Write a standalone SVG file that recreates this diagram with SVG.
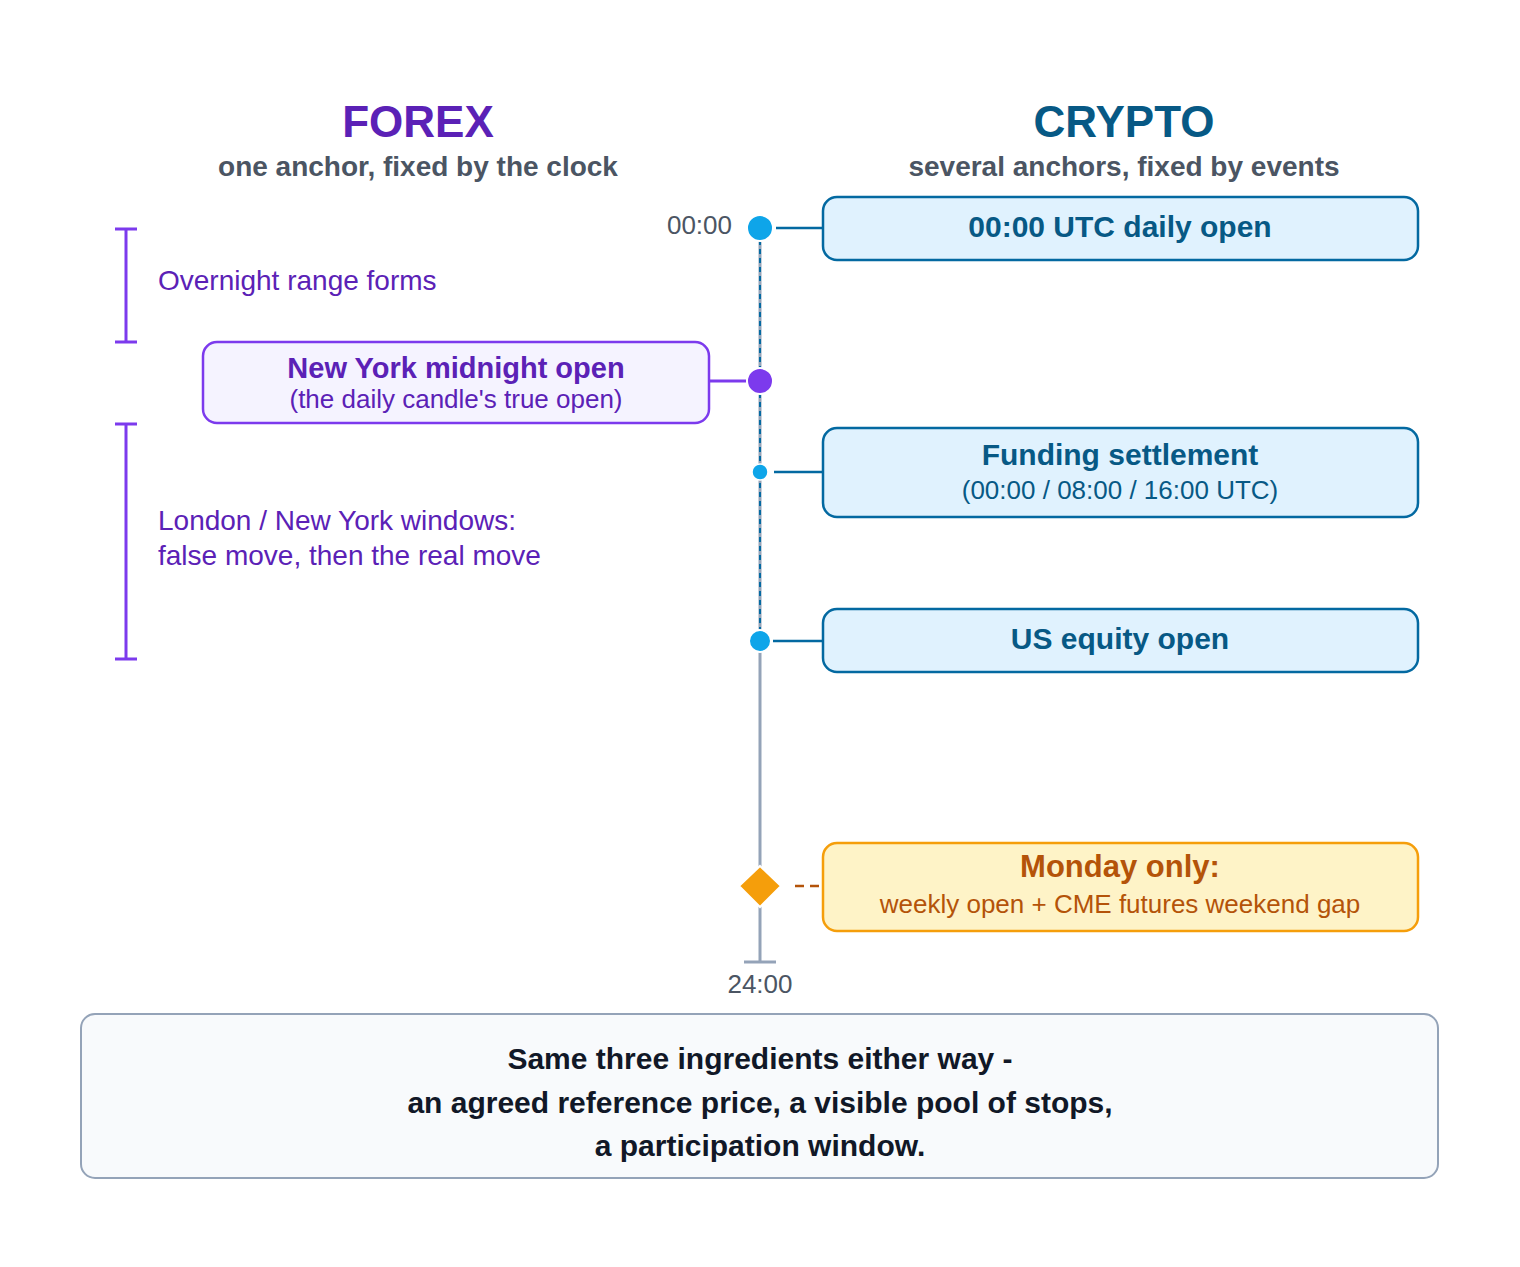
<svg xmlns="http://www.w3.org/2000/svg" width="1520" height="1267" viewBox="0 0 1520 1267">
<style>
text{font-family:"Liberation Sans",Arial,sans-serif}
.fx{fill:#5b21b6}
.cb{fill:#e0f2fe;stroke:#0369a1;stroke-width:2.5}
.ct{fill:#075985;font-weight:bold;font-size:30px}
.cs{fill:#075985;font-size:26px}
</style>
<rect width="1520" height="1267" fill="#fff"/>
<text x="418" y="137" text-anchor="middle" font-size="44" font-weight="bold" class="fx">FOREX</text>
<text x="418" y="176" text-anchor="middle" font-size="28" font-weight="bold" fill="#4b5563">one anchor, fixed by the clock</text>
<text x="1124" y="137" text-anchor="middle" font-size="44" font-weight="bold" fill="#075985">CRYPTO</text>
<text x="1124" y="176" text-anchor="middle" font-size="28" font-weight="bold" fill="#4b5563">several anchors, fixed by events</text>
<g id="connectors">
<line x1="760" y1="240" x2="760" y2="962" stroke="#94a3b8" stroke-width="3"/>
<line x1="760" y1="240" x2="760" y2="640" stroke="#0369a1" stroke-width="2" stroke-dasharray="5,4"/>
<line x1="744" y1="962" x2="776" y2="962" stroke="#94a3b8" stroke-width="3"/>
<line x1="776" y1="228" x2="823" y2="228" stroke="#0369a1" stroke-width="2.5"/>
<line x1="774" y1="472" x2="823" y2="472" stroke="#0369a1" stroke-width="2.5"/>
<line x1="773" y1="641" x2="823" y2="641" stroke="#0369a1" stroke-width="2.5"/>
<line x1="710" y1="381" x2="746" y2="381" stroke="#7c3aed" stroke-width="3"/>
<line x1="795" y1="886" x2="823" y2="886" stroke="#b45309" stroke-width="2.5" stroke-dasharray="9,6"/>
</g>
<g id="timeline-marks">
<circle cx="760" cy="228" r="13" fill="#0ea5e9" stroke="#fff" stroke-width="2"/>
<circle cx="760" cy="381" r="13" fill="#7c3aed" stroke="#fff" stroke-width="2"/>
<circle cx="760" cy="472" r="8" fill="#0ea5e9" stroke="#fff" stroke-width="1.5"/>
<circle cx="760" cy="641" r="11" fill="#0ea5e9" stroke="#fff" stroke-width="2"/>
<polygon points="760,866 781,886 760,907 739,886" fill="#f59e0b" stroke="#fff" stroke-width="2"/>
<text x="732" y="234" text-anchor="end" font-size="26" fill="#4b5563">00:00</text>
<text x="760" y="993" text-anchor="middle" font-size="26" fill="#4b5563">24:00</text>
</g>
<g id="overnight">
<path d="M115 229H137M126 229V342M115 342H137" stroke="#7c3aed" stroke-width="3" fill="none"/>
<text x="158" y="290" font-size="28" class="fx">Overnight range forms</text>
</g>
<g id="ny-open">
<rect x="203" y="342" width="506" height="81" rx="14" fill="#f5f3ff" stroke="#7c3aed" stroke-width="2.5"/>
<text x="456" y="378" text-anchor="middle" font-size="29" font-weight="bold" class="fx">New York midnight open</text>
<text x="456" y="408" text-anchor="middle" font-size="26" class="fx">(the daily candle's true open)</text>
</g>
<g id="windows">
<path d="M115 424H137M126 424V659M115 659H137" stroke="#7c3aed" stroke-width="3" fill="none"/>
<text x="158" y="530" font-size="28" class="fx">London / New York windows:</text>
<text x="158" y="565" font-size="28" class="fx">false move, then the real move</text>
</g>
<g id="utc-open">
<rect x="823" y="197" width="595" height="63" rx="14" class="cb"/>
<text x="1120" y="237" text-anchor="middle" class="ct">00:00 UTC daily open</text>
</g>
<g id="funding">
<rect x="823" y="428" width="595" height="89" rx="14" class="cb"/>
<text x="1120" y="465" text-anchor="middle" class="ct">Funding settlement</text>
<text x="1120" y="499" text-anchor="middle" class="cs">(00:00 / 08:00 / 16:00 UTC)</text>
</g>
<g id="us-equity">
<rect x="823" y="609" width="595" height="63" rx="14" class="cb"/>
<text x="1120" y="649" text-anchor="middle" class="ct">US equity open</text>
</g>
<g id="monday">
<rect x="823" y="843" width="595" height="88" rx="14" fill="#fef3c7" stroke="#f59e0b" stroke-width="2.5"/>
<text x="1120" y="877" text-anchor="middle" font-size="31" font-weight="bold" fill="#b45309">Monday only:</text>
<text x="1120" y="913" text-anchor="middle" font-size="26" fill="#b45309">weekly open + CME futures weekend gap</text>
</g>
<g id="summary">
<rect x="81" y="1014" width="1357" height="164" rx="14" fill="#f8fafc" stroke="#94a3b8" stroke-width="2"/>
<g font-size="30" font-weight="bold" fill="#111827" text-anchor="middle">
<text x="760" y="1069">Same three ingredients either way -</text>
<text x="760" y="1113">an agreed reference price, a visible pool of stops,</text>
<text x="760" y="1156">a participation window.</text>
</g>
</g>
</svg>
